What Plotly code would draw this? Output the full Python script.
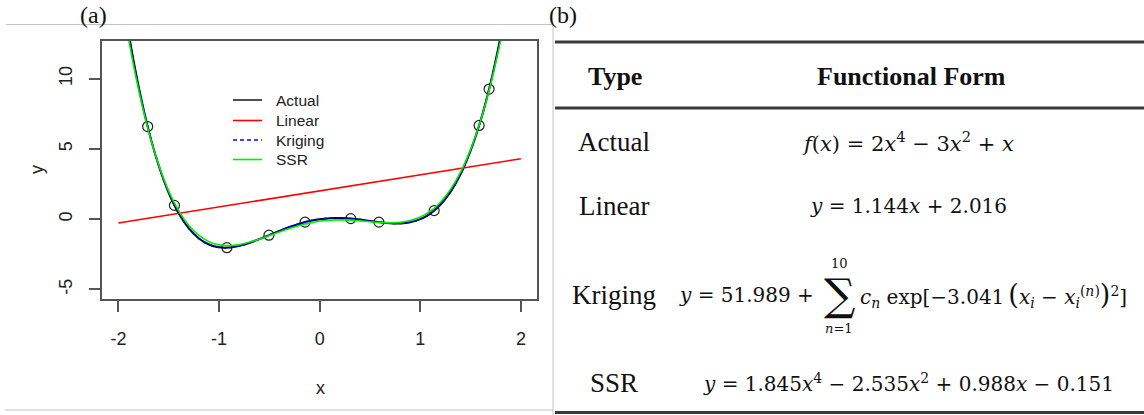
import plotly.graph_objects as go

W, H = 1144, 415

# ---------------- data ----------------
x_grid = [-2.0, -1.9, -1.8, -1.7, -1.6, -1.5, -1.4, -1.3, -1.2, -1.1, -1.0,
          -0.9, -0.8, -0.7, -0.6, -0.5, -0.4, -0.3, -0.2, -0.1, 0.0,
          0.1, 0.2, 0.3, 0.4, 0.5, 0.6, 0.7, 0.8, 0.9, 1.0,
          1.1, 1.2, 1.3, 1.4, 1.5, 1.6, 1.7, 1.8, 1.9, 2.0]
actual_y = [18.0, 13.33, 9.48, 6.33, 3.83, 1.88, 0.40, -0.66, -1.37, -1.80, -2.00,
            -2.02, -1.90, -1.69, -1.42, -1.13, -0.83, -0.55, -0.32, -0.13, 0.00,
            0.07, 0.08, 0.05, -0.03, -0.13, -0.22, -0.29, -0.30, -0.22, 0.00,
            0.40, 1.03, 1.94, 3.20, 4.88, 7.03, 9.73, 13.08, 17.13, 22.0]
kriging_y = [17.6, 13.20, 9.44, 6.34, 3.84, 1.88, 0.41, -0.66, -1.38, -1.81, -2.01,
             -2.03, -1.91, -1.69, -1.42, -1.13, -0.83, -0.56, -0.32, -0.13, 0.00,
             0.07, 0.08, 0.05, -0.03, -0.13, -0.22, -0.29, -0.30, -0.22, 0.00,
             0.40, 1.03, 1.94, 3.20, 4.87, 7.02, 9.72, 13.0, 16.9, 21.5]
ssr_y = [17.25, 12.87, 9.23, 6.25, 3.87, 2.00, 0.59, -0.45, -1.16, -1.60, -1.83,
         -1.88, -1.81, -1.64, -1.42, -1.16, -0.91, -0.66, -0.45, -0.28, -0.15,
         -0.08, -0.05, -0.07, -0.12, -0.18, -0.23, -0.26, -0.23, -0.10, 0.15,
         0.57, 1.21, 2.12, 3.35, 4.97, 7.03, 9.61, 12.78, 16.62, 21.2]
linear_x = [-2.0, 2.0]
linear_y = [-0.272, 4.304]
sample_x = [-1.709, -1.443, -0.922, -0.504, -0.145, 0.309, 0.589, 1.138, 1.585, 1.684]
sample_y = [6.59, 0.98, -2.03, -1.14, -0.21, 0.04, -0.21, 0.61, 6.67, 9.26]

x_ticks = [-2, -1, 0, 1, 2]
x_tick_text = ["-2", "-1", "0", "1", "2"]
y_ticks = [-5, 0, 5, 10]
y_tick_text = ["-5", "0", "5", "10"]

series_names = ["Actual", "Linear", "Kriging", "SSR"]
series_colors = ["#222222", "#ff0000", "#0000ff", "#00ee00"]
series_dash = ["solid", "solid", "4px,3px", "solid"]

table_types = ["Actual", "Linear", "Kriging", "SSR"]
table_header = ["Type", "Functional Form"]

SERIF = "Liberation Serif"
MATH = "DejaVu Serif"
SANS = "Liberation Sans"


def P(x, y):
    return x / W, 1 - y / H


fig = go.Figure()
fig.add_trace(go.Scatter(x=sample_x, y=sample_y, mode="markers", showlegend=False,
                         marker=dict(symbol="circle-open", size=10, color="#222",
                                     line=dict(width=1.2, color="#222"))))
fig.add_trace(go.Scatter(x=x_grid, y=actual_y, mode="lines", name=series_names[0],
                         line=dict(color="black", width=2, shape="spline")))
fig.add_trace(go.Scatter(x=linear_x, y=linear_y, mode="lines", name=series_names[1],
                         line=dict(color=series_colors[1], width=1.6)))
fig.add_trace(go.Scatter(x=x_grid, y=kriging_y, mode="lines", name=series_names[2],
                         line=dict(color=series_colors[2], width=1.6, dash=series_dash[2],
                                   shape="spline")))
fig.add_trace(go.Scatter(x=x_grid, y=ssr_y, mode="lines", name=series_names[3],
                         line=dict(color=series_colors[3], width=1.6, shape="spline")))

axis_common = dict(showline=True, mirror=True, linecolor="#555", linewidth=1.8,
                   ticks="outside", ticklen=11, tickwidth=1.5, tickcolor="#555",
                   showgrid=False, zeroline=False,
                   tickfont=dict(family=SANS, size=18, color="#222"))

fig.update_layout(
    width=W, height=H,
    margin=dict(l=0, r=0, t=0, b=0),
    paper_bgcolor="white", plot_bgcolor="white",
    xaxis=dict(domain=[102.3 / W, 537 / W], range=[-2.16, 2.16],
               tickvals=x_ticks, ticktext=x_tick_text, ticklabelstandoff=11, **axis_common),
    yaxis=dict(domain=[1 - 299 / H, 1 - 41 / H], range=[-5.68, 12.68],
               tickvals=y_ticks, ticktext=y_tick_text, tickangle=-90,
               ticklabelstandoff=10, **axis_common),
    showlegend=False,
)

shapes = []
# light frame around panel (a)
for (x0, y0, x1, y1) in [(6, 24.5, 553, 24.5), (553, 24.5, 553, 415), (5, 410, 553, 410)]:
    a, b = P(x0, y0)
    c, d = P(x1, y1)
    shapes.append(dict(type="line", xref="paper", yref="paper", x0=a, y0=b, x1=c, y1=d,
                       line=dict(color="#c4c4c4", width=1)))
# table rules
for yy in [42, 108, 412.5]:
    a, b = P(555, yy)
    c, d = P(1144, yy)
    shapes.append(dict(type="line", xref="paper", yref="paper", x0=a, y0=b, x1=c, y1=d,
                       line=dict(color="#3a3a3a", width=3)))

ann = []


def add(text, x, y, size, family, xanchor="center", color="#111"):
    a, b = P(x, y)
    ann.append(dict(text=text, x=a, y=b, xref="paper", yref="paper", showarrow=False,
                    xanchor=xanchor, yanchor="middle",
                    font=dict(family=family, size=size, color=color)))


# legend (drawn like R's legend())
legend_rows = [100, 120.5, 140, 159.5]
for name, col, dash, yy in zip(series_names, series_colors, series_dash, legend_rows):
    a, b = P(233, yy)
    c, d = P(262, yy)
    shapes.append(dict(type="line", xref="paper", yref="paper", x0=a, y0=b, x1=c, y1=d,
                       line=dict(color=col, width=1.6, dash=dash)))
    add(name, 274, yy, 15.5, SANS, xanchor="left", color="#222")

fig.update_layout(shapes=shapes)

add("(a)", 93, 15, 24, SERIF)
add("(b)", 563, 15, 24, SERIF)
add("x", 320, 388, 18, SANS, color="#222")
a, b = P(25, 170)
ann.append(dict(text="y", x=a, y=b, xref="paper", yref="paper", showarrow=False,
                textangle=-90, font=dict(family=SANS, size=18, color="#222")))

add("<b>%s</b>" % table_header[0], 615, 77, 26, SERIF)
add("<b>%s</b>" % table_header[1], 911, 77, 26, SERIF)
rows_y = [142, 206, 295, 383]
for t, yy in zip(table_types, rows_y):
    add(t, 614, yy, 27, SERIF)

FS = 20
add("<i>f</i>(<i>x</i>) = 2<i>x</i><sup>4</sup> − 3<i>x</i><sup>2</sup> + <i>x</i>", 908, 142, 21, MATH)
add("<i>y</i> = 1.144<i>x</i> + 2.016", 908, 206, FS, MATH)
add("<i>y</i> = 51.989 +", 816, 295, FS, MATH, xanchor="right")
add("∑", 839, 294, 44, MATH)
add("10", 839, 263, 13, MATH)
add("<i>n</i>=1", 839, 328, 13, MATH)
add("<i>c<sub>n</sub></i> exp[−3.041\u2009<span style=\"font-size:27px\">(</span><i>x<sub>i</sub></i> − "
    "<i>x<sub>i</sub></i><sup>(<i>n</i>)</sup><span style=\"font-size:27px\">)</span><sup>2</sup>]",
    858, 295, FS, MATH, xanchor="left")
add("<i>y</i> = 1.845<i>x</i><sup>4</sup> − 2.535<i>x</i><sup>2</sup> + 0.988<i>x</i> − 0.151",
    908, 383, FS, MATH)

fig.update_layout(annotations=ann)
fig.write_html("out.html")
